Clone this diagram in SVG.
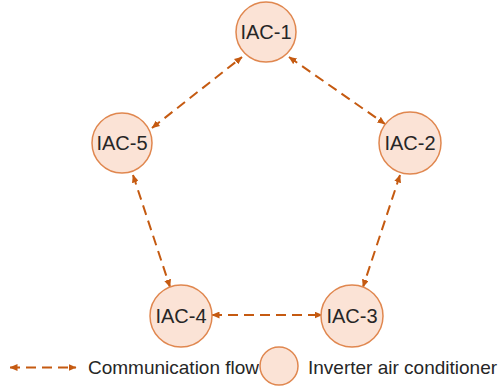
<svg xmlns="http://www.w3.org/2000/svg" width="499" height="387" viewBox="0 0 499 387">
<defs>
<style>
.node circle{fill:#FBE3D6;stroke:#E0874F;stroke-width:1.5}
.node text,.lbl{font-family:"Liberation Sans",Arial,sans-serif;font-size:19px;fill:#262626}
.node text{text-anchor:middle;font-size:20px}
.conn line{stroke:#C55A11;stroke-width:2;stroke-dasharray:10,6;fill:none;marker-start:url(#ah);marker-end:url(#ah)}
</style>
<marker id="ah" viewBox="0 0 8 7" refX="7.5" refY="3.5" markerWidth="8" markerHeight="7" markerUnits="userSpaceOnUse" orient="auto-start-reverse">
<path d="M0,0 L8,3.5 L0,7 z" fill="#C55A11"/>
</marker>
</defs>
<rect width="499" height="387" fill="#fff"/>
<g id="connectors" class="conn">
<line x1="152" y1="128" x2="242" y2="57"/>
<line x1="289" y1="57" x2="385" y2="124"/>
<line x1="400" y1="175" x2="363" y2="287"/>
<line x1="133" y1="175" x2="170" y2="287"/>
<line x1="212" y1="315" x2="322" y2="315"/>
<line x1="10" y1="367.5" x2="76" y2="367.5"/>
</g>
<g id="IAC-1" class="node"><circle cx="266" cy="32" r="30"/><text x="266" y="39">IAC-1</text></g>
<g id="IAC-2" class="node"><circle cx="410" cy="143" r="31"/><text x="410" y="150">IAC-2</text></g>
<g id="IAC-3" class="node"><circle cx="352" cy="316" r="31"/><text x="352" y="323">IAC-3</text></g>
<g id="IAC-4" class="node"><circle cx="181" cy="316" r="31"/><text x="181" y="323">IAC-4</text></g>
<g id="IAC-5" class="node"><circle cx="122" cy="143" r="30"/><text x="122" y="150">IAC-5</text></g>
<g id="legend">
<text class="lbl" x="88" y="374">Communication flow</text>
<g class="node"><circle cx="279" cy="366" r="19"/></g>
<text class="lbl" x="308" y="374">Inverter air conditioner</text>
</g>
</svg>
